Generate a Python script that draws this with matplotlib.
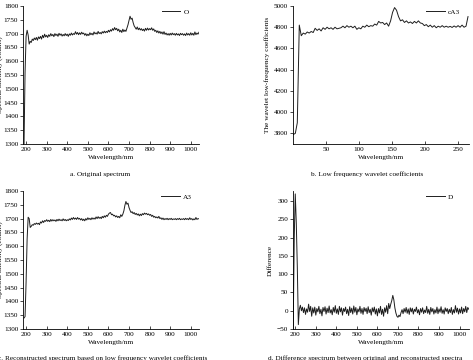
import numpy as np
import matplotlib
matplotlib.use("Agg")
import matplotlib.pyplot as plt

plt.rcParams['font.family'] = ['Liberation Serif', 'DejaVu Serif']
FS = 5.2
LINE_COLOR = '#1e1e1e'

# a. original spectrum, sampled every 5 nm from 190 nm
wl_o = np.arange(190, 1041, 5)
orig = [
    1300, 1560, 1690, 1712, 1695, 1662, 1672, 1668, 1680, 1675,
    1684, 1678, 1686, 1676, 1688, 1682, 1690, 1680, 1694, 1685,
    1698, 1688, 1694, 1686, 1696, 1690, 1700, 1692, 1697, 1689,
    1700, 1693, 1698, 1690, 1701, 1694, 1699, 1691, 1697, 1692,
    1700, 1693, 1698, 1690, 1699, 1694, 1702, 1695, 1700, 1697,
    1707, 1698, 1704, 1696, 1703, 1697, 1705, 1699, 1702, 1694,
    1700, 1692, 1698, 1693, 1703, 1696, 1701, 1695, 1706, 1699,
    1703, 1698, 1708, 1700, 1704, 1699, 1707, 1702, 1709, 1703,
    1708, 1704, 1712, 1706, 1714, 1709, 1718, 1712, 1722, 1714,
    1719, 1710, 1716, 1706, 1712, 1704, 1716, 1707, 1713, 1708,
    1720, 1732, 1748, 1763, 1752, 1756, 1740, 1728, 1722, 1716,
    1724, 1714, 1720, 1713, 1718, 1711, 1716, 1709, 1719, 1712,
    1720, 1713, 1718, 1714, 1721, 1712, 1717, 1708, 1712, 1704,
    1710, 1702, 1708, 1700, 1706, 1698, 1707, 1697, 1702, 1695,
    1700, 1694, 1701, 1695, 1702, 1696, 1700, 1694, 1701, 1695,
    1699, 1693, 1701, 1696, 1700, 1694, 1699, 1693, 1702, 1695,
    1700, 1694, 1703, 1695, 1701, 1694, 1706, 1696, 1702, 1698,
    1705,
]

# b. low frequency wavelet coefficients cA3
idx_ca3 = np.arange(1, 266, 3)
ca3 = [
    3790, 3800, 3900, 4820, 4720,
    4745, 4735, 4755, 4745, 4760, 4750, 4790, 4770, 4785, 4765,
    4795, 4780, 4800, 4785, 4795, 4780, 4800, 4785, 4790, 4795,
    4810, 4795, 4815, 4800, 4810, 4795, 4810, 4780, 4795, 4785,
    4810, 4800, 4820, 4805, 4815, 4810, 4830, 4820, 4855, 4840,
    4845, 4825, 4840, 4810, 4860, 4940, 4985, 4960, 4900, 4860,
    4870, 4845, 4860, 4840, 4850, 4835, 4855, 4840, 4860, 4840,
    4835, 4815, 4825, 4805, 4820, 4800, 4815, 4795, 4810, 4800,
    4815, 4800, 4810, 4800, 4808, 4798, 4812, 4800, 4815, 4800,
    4820, 4800, 4810, 4900,
]

# c. reconstructed spectrum A3
wl_a3 = np.arange(190, 1041, 5)
a3 = [
    1340, 1345, 1470, 1625, 1705, 1700, 1668, 1672, 1678, 1676,
    1682, 1679, 1684, 1680, 1683, 1678, 1688, 1684, 1692, 1686,
    1693, 1690, 1696, 1690, 1694, 1689, 1697, 1691, 1696, 1692,
    1695, 1690, 1697, 1692, 1698, 1693, 1696, 1692, 1699, 1693,
    1697, 1692, 1696, 1693, 1699, 1695, 1702, 1697, 1704, 1698,
    1702, 1697, 1704, 1698, 1701, 1695, 1700, 1693, 1698, 1692,
    1700, 1695, 1703, 1697, 1701, 1696, 1703, 1698, 1702, 1698,
    1706, 1700, 1707, 1701, 1705, 1700, 1708, 1703, 1710, 1705,
    1712, 1708, 1716, 1720, 1722, 1714, 1716, 1710, 1712, 1706,
    1710, 1704, 1708, 1703, 1714, 1708, 1716, 1728, 1748, 1762,
    1752, 1756, 1740, 1730, 1722, 1725, 1718, 1722, 1715, 1719,
    1713, 1717, 1710, 1716, 1711, 1718, 1714, 1720, 1716, 1719,
    1714, 1717, 1712, 1715, 1708, 1712, 1705, 1708, 1703, 1706,
    1702, 1708, 1700, 1703, 1697, 1702, 1696, 1700, 1697, 1701,
    1696, 1700, 1697, 1701, 1696, 1699, 1697, 1700, 1696, 1700,
    1697, 1701, 1696, 1699, 1697, 1700, 1696, 1701, 1697, 1700,
    1696, 1703, 1697, 1700, 1695, 1699, 1696, 1704, 1697, 1700,
    1699,
]

# d. difference spectrum D
wl_d = np.arange(190, 1046, 5)
diff = [
    -50, 200, 320, 240, 120, -38, 5, 15, 0, 10,
    -5, 8, -10, 5, -4, 18, -2, 12, -15, 8,
    -6, 10, -12, 6, -3, 12, -8, 4, -14, 9,
    -2, 11, -9, 7, -5, 13, -6, 3, -11, 9,
    -4, 14, -7, 5, -10, 12, -3, 8, -12, 6,
    -2, 10, -8, 4, -13, 11, -5, 7, -9, 13,
    -4, 9, -11, 5, -3, 12, -7, 6, -10, 9,
    -2, 7, -8, 11, -5, 4, -12, 8, -3, 10,
    -9, 5, -14, 6, -6, 12, -10, 4, -15, 8,
    -4, 14, -8, 20, 6, 18, 28, 42, 30, 8,
    -6, -15, -18, -12, -16, -5, 3, -8, 6, -4,
    9, -7, 5, -10, 8, -3, 7, -9, 4, -2,
    10, -6, 3, -11, 6, -4, 8, -8, 2, -5,
    12, -7, 4, -10, 9, -3, 6, -9, 3, -6,
    10, -8, 5, -4, 11, -7, 3, -9, 8, -2,
    6, -8, 4, -5, 9, -10, 3, -6, 14, -4,
    7, -9, 5, -6, 10, -8, 6, -3, 12, -5,
    9, 4,
]

fig = plt.figure(figsize=(4.73, 3.6), dpi=100)
W, H = 473.0, 360.0


def make_axes(x0, y0, x1, y1):
    # pixel box -> figure fraction
    return fig.add_axes([x0 / W, 1 - y1 / H, (x1 - x0) / W, (y1 - y0) / H])


def style(ax):
    for s in ['top', 'right']:
        ax.spines[s].set_visible(False)
    for s in ['left', 'bottom']:
        ax.spines[s].set_linewidth(0.6)
    ax.tick_params(axis='x', direction='in', length=2, width=0.5, labelsize=FS, pad=2)
    ax.tick_params(axis='y', direction='out', length=2, width=0.5, labelsize=FS, pad=1.5)
    ax.set_xlabel('Wavelength/nm', fontsize=FS, labelpad=2)


def legend(ax, x, y):
    ax.legend(loc='upper right', bbox_to_anchor=(x, y), frameon=False, fontsize=FS,
              handlelength=2.6, handletextpad=0.4, borderpad=0, borderaxespad=0)


ax_a = make_axes(23, 6, 199, 144)
ax_a.plot(wl_o, orig, color=LINE_COLOR, lw=0.7, label='O')
ax_a.set_xlim(185, 1040)
ax_a.set_ylim(1300, 1800)
ax_a.set_xticks(np.arange(200, 1001, 100))
ax_a.set_yticks(np.arange(1300, 1801, 50))
style(ax_a)
legend(ax_a, 0.94, 0.98)

ax_b = make_axes(293, 6, 469, 144)
ax_b.plot(idx_ca3, ca3, color=LINE_COLOR, lw=0.7, label='cA3')
ax_b.set_xlim(0.5, 266.5)
ax_b.set_ylim(3700, 5000)
ax_b.set_xticks([50, 100, 150, 200, 250])
ax_b.set_yticks(np.arange(3800, 5001, 200))
style(ax_b)
ax_b.set_ylabel('The wavelet low-frequency coefficients', fontsize=FS, labelpad=3)
legend(ax_b, 0.95, 0.98)

ax_c = make_axes(23, 191, 199, 329)
ax_c.plot(wl_a3, a3, color=LINE_COLOR, lw=0.7, label='A3')
ax_c.set_xlim(185, 1040)
ax_c.set_ylim(1300, 1800)
ax_c.set_xticks(np.arange(200, 1001, 100))
ax_c.set_yticks(np.arange(1300, 1801, 50))
style(ax_c)
legend(ax_c, 0.96, 0.98)

ax_d = make_axes(293, 191, 469, 329)
ax_d.plot(wl_d, diff, color=LINE_COLOR, lw=0.7, label='D')
ax_d.set_xlim(189, 1046)
ax_d.set_ylim(-50, 328)
ax_d.set_xticks(np.arange(200, 1001, 100))
ax_d.set_yticks([-50, 0, 50, 100, 150, 200, 250, 300])
style(ax_d)
ax_d.set_ylabel('Difference', fontsize=FS, labelpad=3)
legend(ax_d, 0.91, 0.98)

# y labels of the left panels sit partly outside the canvas
for yc in (75, 260):
    fig.text(0.0, 1 - yc / H, 'Spectral intensity (counts)', rotation=90,
             ha='center', va='center', fontsize=FS)

fig.text(100 / W, 1 - 174 / H, 'a. Original spectrum', ha='center', va='center', fontsize=FS)
fig.text(367 / W, 1 - 174 / H, 'b. Low frequency wavelet coefficients',
         ha='center', va='center', fontsize=FS)
fig.text(207 / W, 1 - 355 / H,
         'c. Reconstructed spectrum based on low frequency wavelet coefficients',
         ha='right', va='top', fontsize=FS)
fig.text(268 / W, 1 - 355 / H,
         'd. Difference spectrum between original and reconstructed spectra',
         ha='left', va='top', fontsize=FS)

fig.savefig('out.png', dpi=100)
